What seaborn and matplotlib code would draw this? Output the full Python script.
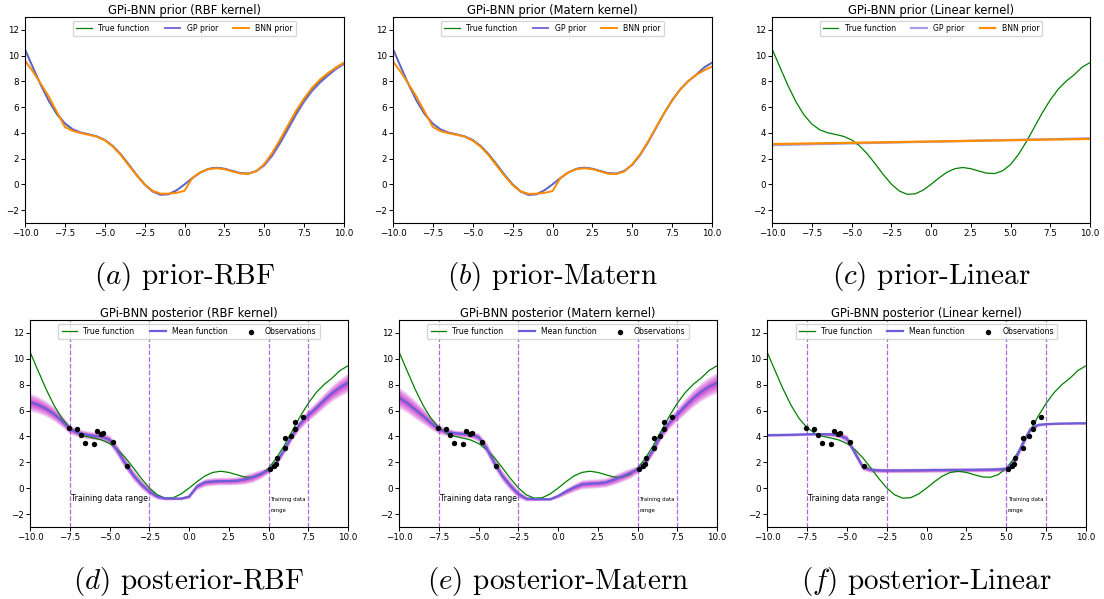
import numpy as np
import matplotlib
matplotlib.use('Agg')
import matplotlib.pyplot as plt
import seaborn as sns

plt.rcParams['mathtext.fontset'] = 'cm'

# x grid shared by all curves
X = np.arange(-10, 10.01, 0.5)

# curves (41 points each, step 0.5)
true_fn = [10.54, 9.10, 7.69, 6.43, 5.41, 4.69, 4.24, 4.01, 3.88, 3.73, 3.46, 3.00, 2.36, 1.58, 0.76,
           0.03, -0.51, -0.77, -0.74, -0.45, 0.00, 0.50, 0.94, 1.22, 1.31, 1.22, 1.04, 0.87, 0.84, 1.05,
           1.54, 2.32, 3.32, 4.44, 5.56, 6.56, 7.39, 8.02, 8.51, 9.10, 9.46]

gp_rbf = [10.45, 9.05, 7.70, 6.50, 5.50, 4.75, 4.28, 4.03, 3.89, 3.73, 3.45, 2.98, 2.33, 1.54, 0.72,
          -0.02, -0.56, -0.82, -0.78, -0.47, 0.00, 0.48, 0.92, 1.20, 1.29, 1.22, 1.05, 0.88, 0.84, 1.02,
          1.47, 2.22, 3.20, 4.30, 5.42, 6.42, 7.25, 7.90, 8.45, 8.95, 9.35]
bnn_rbf = [9.62, 8.75, 7.80, 6.80, 5.62, 4.45, 4.15, 3.98, 3.85, 3.70, 3.42, 2.95, 2.28, 1.48, 0.70,
           0.00, -0.50, -0.72, -0.72, -0.66, -0.50, 0.52, 0.95, 1.18, 1.25, 1.18, 1.00, 0.84, 0.82, 1.02,
           1.58, 2.45, 3.50, 4.62, 5.72, 6.68, 7.50, 8.15, 8.65, 9.08, 9.45]

gp_matern = [10.50, 9.08, 7.70, 6.45, 5.45, 4.72, 4.26, 4.02, 3.88, 3.72, 3.44, 2.97, 2.32, 1.53, 0.71,
             -0.03, -0.57, -0.83, -0.78, -0.46, 0.00, 0.49, 0.93, 1.21, 1.30, 1.22, 1.04, 0.87, 0.84, 1.04,
             1.52, 2.29, 3.28, 4.40, 5.52, 6.52, 7.36, 8.00, 8.50, 9.05, 9.45]
bnn_matern = [9.55, 8.70, 7.75, 6.75, 5.60, 4.45, 4.12, 3.97, 3.85, 3.70, 3.40, 2.92, 2.25, 1.45, 0.65,
              -0.05, -0.55, -0.74, -0.72, -0.66, -0.52, 0.50, 0.95, 1.18, 1.25, 1.18, 1.00, 0.82, 0.80, 1.00,
              1.55, 2.35, 3.35, 4.45, 5.55, 6.50, 7.35, 8.00, 8.50, 8.85, 9.15]

lin_x = [-10, 10]
gp_linear = [3.05, 3.58]
bnn_linear = [3.13, 3.53]

mean_rbf = [6.65, 6.45, 6.15, 5.75, 5.20, 4.55, 4.30, 4.15, 4.05, 4.00, 3.75, 2.90, 1.90, 1.00, 0.30,
            -0.25, -0.65, -0.80, -0.80, -0.80, -0.65, 0.15, 0.45, 0.52, 0.55, 0.55, 0.58, 0.68, 0.85, 1.10,
            1.40, 2.00, 3.00, 4.10, 5.00, 5.65, 6.20, 6.80, 7.35, 7.80, 8.15]
band_rbf = [0.70, 0.65, 0.60, 0.55, 0.45, 0.35, 0.30, 0.30, 0.30, 0.30, 0.35, 0.45, 0.45, 0.40, 0.35,
            0.30, 0.20, 0.12, 0.10, 0.10, 0.15, 0.25, 0.30, 0.30, 0.30, 0.30, 0.30, 0.35, 0.40, 0.35,
            0.25, 0.25, 0.30, 0.35, 0.40, 0.45, 0.50, 0.55, 0.60, 0.68, 0.75]

mean_matern = [7.00, 6.60, 6.10, 5.60, 5.05, 4.55, 4.35, 4.25, 4.20, 4.15, 3.95, 3.10, 1.95, 0.95, 0.20,
               -0.45, -0.80, -0.85, -0.85, -0.85, -0.60, -0.25, 0.05, 0.30, 0.35, 0.38, 0.45, 0.65, 0.90, 1.15,
               1.45, 2.00, 3.00, 4.20, 5.05, 5.70, 6.35, 6.95, 7.45, 7.85, 8.15]
band_matern = [0.80, 0.75, 0.70, 0.60, 0.50, 0.35, 0.30, 0.25, 0.25, 0.28, 0.32, 0.45, 0.45, 0.40, 0.38,
               0.30, 0.20, 0.12, 0.10, 0.10, 0.15, 0.25, 0.30, 0.35, 0.35, 0.35, 0.35, 0.38, 0.40, 0.40,
               0.30, 0.30, 0.35, 0.40, 0.45, 0.50, 0.60, 0.65, 0.70, 0.75, 0.80]

mean_linear = [4.10, 4.11, 4.12, 4.13, 4.15, 4.17, 4.18, 4.18, 4.16, 4.10, 3.85, 2.75, 1.65, 1.42, 1.38,
               1.37, 1.37, 1.37, 1.38, 1.38, 1.39, 1.40, 1.40, 1.41, 1.41, 1.42, 1.42, 1.43, 1.44, 1.46,
               1.50, 2.05, 3.40, 4.55, 4.90, 4.95, 4.98, 5.00, 5.01, 5.02, 5.02]
band_linear = [0.10, 0.10, 0.10, 0.10, 0.10, 0.10, 0.10, 0.12, 0.15, 0.20, 0.30, 0.32, 0.28, 0.20, 0.17,
               0.17, 0.17, 0.17, 0.17, 0.17, 0.17, 0.17, 0.17, 0.17, 0.17, 0.17, 0.17, 0.17, 0.17, 0.17,
               0.20, 0.28, 0.32, 0.25, 0.12, 0.08, 0.08, 0.08, 0.08, 0.08, 0.08]

obs_x = [-7.53, -7.05, -6.78, -6.57, -6.00, -5.79, -5.54, -5.41, -4.81, -3.91,
         5.08, 5.35, 5.46, 5.52, 6.02, 6.06, 6.40, 6.65, 6.69, 7.17]
obs_y = [4.63, 4.57, 4.13, 3.49, 3.44, 4.39, 4.19, 4.29, 3.57, 1.68,
         1.50, 1.73, 1.89, 2.30, 3.10, 3.90, 4.03, 5.12, 4.60, 5.50]

train_bounds = [-7.5, -2.5, 5.0, 7.5]

kernels = ['RBF', 'Matern', 'Linear']
captions_top = [r'$(a)$ prior-RBF', r'$(b)$ prior-Matern', r'$(c)$ prior-Linear']
captions_bot = [r'$(d)$ posterior-RBF', r'$(e)$ posterior-Matern', r'$(f)$ posterior-Linear']

GREEN = 'green'
BLUE = '#6a5fd8'
ORANGE = 'darkorange'
BAND = 'm'
VLINE = '#9b3fe0'

W, H = 1104, 599
fig = plt.figure(figsize=(W / 100, H / 100), dpi=100)


def make_ax(left, top, right, bottom):
    return fig.add_axes([left / W, 1 - bottom / H, (right - left) / W, (bottom - top) / H])


def style(ax, title):
    ax.set_xlim(-10, 10)
    ax.set_ylim(-3, 13)
    ax.set_xticks(np.arange(-10, 10.01, 2.5))
    ax.set_yticks(range(-2, 13, 2))
    ax.tick_params(labelsize=6.3, length=3, width=0.7, pad=1.5)
    for s in ax.spines.values():
        s.set_linewidth(0.8)
    ax.set_title(title, fontsize=8.3, pad=2.5)
    ax.set_xlabel('')
    ax.set_ylabel('')


# top row: priors
top_boxes = [(25, 17, 344, 223), (393, 17, 712, 223), (772, 17, 1090, 223)]
gp_curves = [gp_rbf, gp_matern]
bnn_curves = [bnn_rbf, bnn_matern]
for i, k in enumerate(kernels):
    ax = make_ax(*top_boxes[i])
    sns.lineplot(x=X, y=true_fn, color=GREEN, lw=0.9, label='True function', ax=ax)
    if k == 'Linear':
        sns.lineplot(x=lin_x, y=gp_linear, color=BLUE, lw=1.6, alpha=0.6, label='GP prior', ax=ax)
        sns.lineplot(x=lin_x, y=bnn_linear, color=ORANGE, lw=1.6, label='BNN prior', ax=ax)
    else:
        sns.lineplot(x=X, y=gp_curves[i], color=BLUE, lw=1.4, alpha=0.9, label='GP prior', ax=ax)
        sns.lineplot(x=X, y=bnn_curves[i], color=ORANGE, lw=1.4, label='BNN prior', ax=ax)
    style(ax, f'GPi-BNN prior ({k} kernel)')
    ax.legend(loc='upper center', ncol=3, fontsize=5.6)
    cx = (top_boxes[i][0] + top_boxes[i][2]) / 2 / W
    fig.text(cx, 1 - 277 / H, captions_top[i], fontfamily='cmr10', fontsize=21,
             ha='center', va='center')

# bottom row: posteriors
bot_boxes = [(30, 320, 348, 527), (399, 320, 717, 527), (767, 320, 1086, 527)]
means = [mean_rbf, mean_matern, mean_linear]
bands = [band_rbf, band_matern, band_linear]
for i, k in enumerate(kernels):
    ax = make_ax(*bot_boxes[i])
    m = np.array(means[i])
    b = np.array(bands[i])
    for f in [1.0, 0.8, 0.6, 0.4, 0.2]:
        ax.fill_between(X, m - f * b, m + f * b, color=BAND, alpha=0.2, lw=0)
    sns.lineplot(x=X, y=true_fn, color=GREEN, lw=0.9, label='True function', ax=ax)
    sns.lineplot(x=X, y=means[i], color=BLUE, lw=1.6, label='Mean function', ax=ax)
    sns.scatterplot(x=obs_x, y=obs_y, color='black', s=15, linewidth=0,
                    label='Observations', ax=ax, zorder=5)
    for xb in train_bounds:
        ax.axvline(xb, color=VLINE, ls='--', lw=0.9, alpha=0.8)
    ax.text(-7.4, -0.8, 'Training data range', fontsize=5.6, va='center')
    ax.text(5.1, -0.9, 'Training data', fontsize=3.9, va='center')
    ax.text(5.1, -1.7, 'range', fontsize=3.9, va='center')
    style(ax, f'GPi-BNN posterior ({k} kernel)')
    ax.legend(loc='upper center', ncol=3, fontsize=5.6)
    cx = (bot_boxes[i][0] + bot_boxes[i][2]) / 2 / W
    fig.text(cx, 1 - 581 / H, captions_bot[i], fontfamily='cmr10', fontsize=21,
             ha='center', va='center')

fig.savefig('out.png', dpi=100)
